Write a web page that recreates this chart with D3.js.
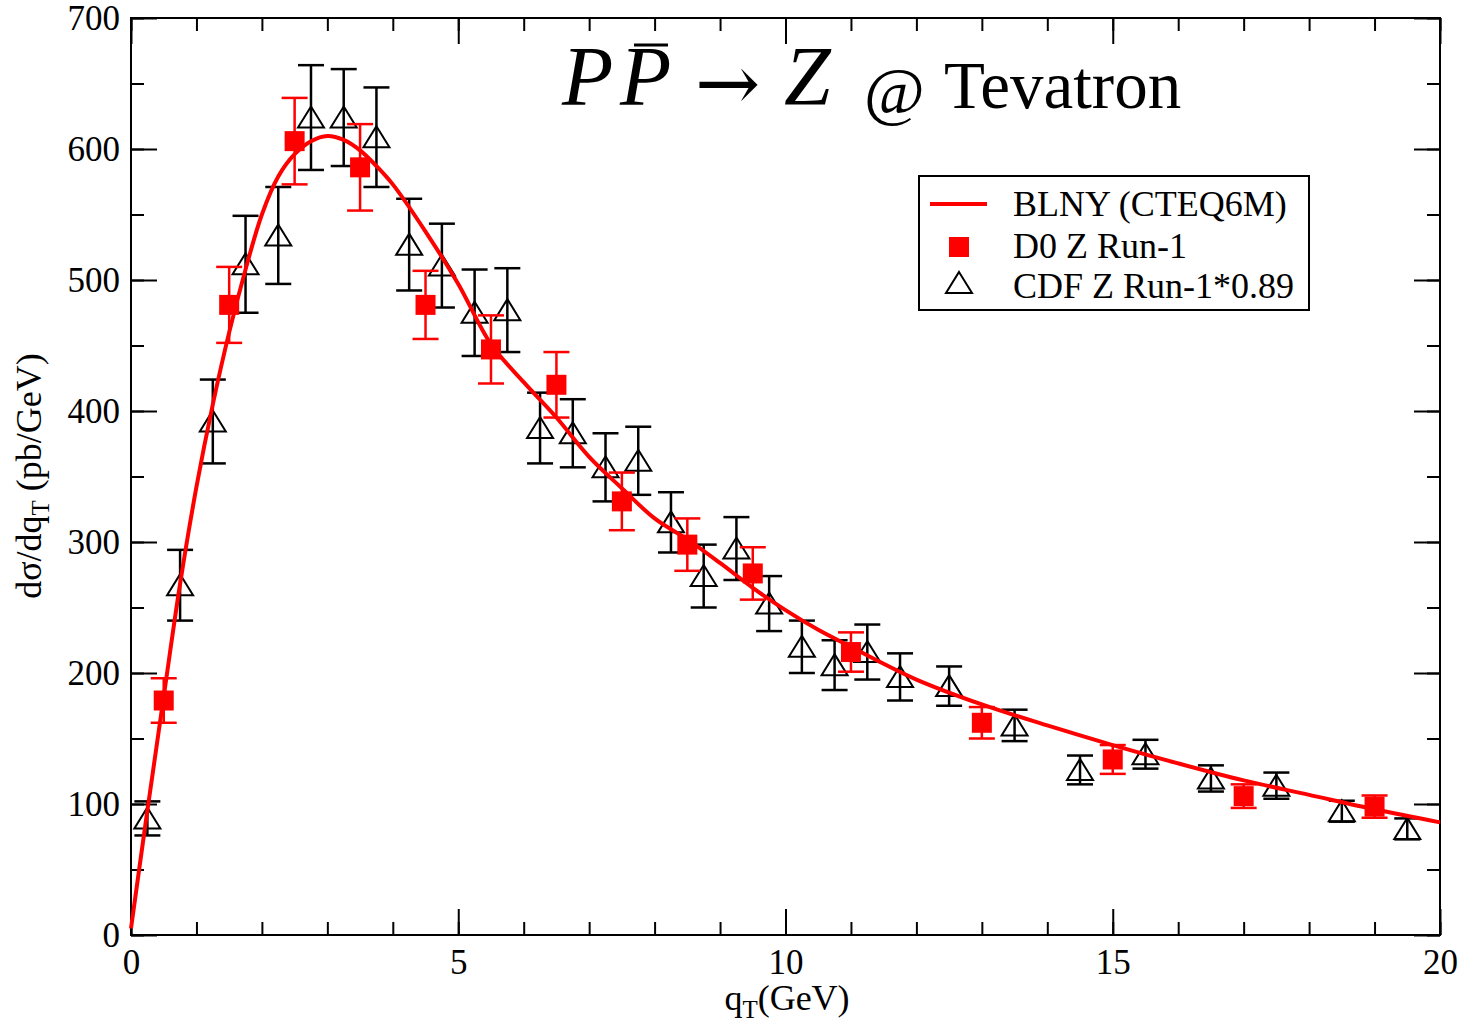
<!DOCTYPE html>
<html><head><meta charset="utf-8">
<script src="https://cdn.jsdelivr.net/npm/d3@7"></script>
<style>body{margin:0;background:#fff}</style>
</head><body>
<svg id="c" width="1466" height="1026"></svg>
<script>
// BLNY (CTEQ6M) theory curve
const curveQ = [0, 0.25, 0.5, 0.75, 1.0, 1.25, 1.5, 1.75, 2.0, 2.25, 2.5, 2.75, 3.0, 3.25, 3.5, 3.75, 4.0, 4.5, 5.0, 5.5, 6.0, 6.5, 7.0, 7.5, 8.0, 8.5, 9.0, 9.5, 10, 10.5, 11, 11.5, 12, 13, 14, 15, 16, 17, 18, 19, 20];
const curveV = [5, 95, 182, 268, 342, 405, 460, 508, 550, 579, 596, 606, 610, 607, 599, 587, 573, 537, 497, 451, 422, 395, 365, 341, 318, 302, 284, 265, 248, 233, 220, 207, 195, 176, 160, 145, 131, 118, 107, 96, 86];
// D0 Z Run-1
const d0Q = [0.5, 1.5, 2.5, 3.5, 4.5, 5.5, 6.5, 7.5, 8.5, 9.5, 11, 13, 15, 17, 19];
const d0V = [179, 481, 606, 586, 481, 447, 420, 331, 298, 276, 216, 162, 134, 106, 98];
const d0Err = [17, 29, 33, 33, 26, 26, 25, 22, 20, 20, 15, 12, 11, 9, 8.5];
// CDF Z Run-1 * 0.89
const cdfQ = [0.25, 0.75, 1.25, 1.75, 2.25, 2.75, 3.25, 3.75, 4.25, 4.75, 5.25, 5.75, 6.25, 6.75, 7.25, 7.75, 8.25, 8.75, 9.25, 9.75, 10.25, 10.75, 11.25, 11.75, 12.5, 13.5, 14.5, 15.5, 16.5, 17.5, 18.5, 19.5];
const cdfV = [89, 267, 392, 512, 534, 624, 624, 609, 527, 511, 475, 477, 387, 383, 357, 362, 315, 274, 295, 253, 220, 206, 216, 197, 190, 160, 126, 138, 119.5, 114, 94.5, 81];
const cdfErr = [13, 27, 32, 37, 37, 40, 37, 38, 35, 32, 33, 32, 27, 26, 26, 26, 23, 24, 24, 21, 20, 19, 21, 18, 15, 12, 11, 11, 10, 10, 8, 8];
// axes ticks
const xMajor = [0, 5, 10, 15, 20];
const xMinor = d3.range(0, 21, 1);
const yMajor = [0, 100, 200, 300, 400, 500, 600, 700];
const yMinor = d3.range(0, 701, 50);
const legendLabels = ["BLNY (CTEQ6M)", "D0 Z Run-1", "CDF Z Run-1*0.89"];

const svg = d3.select('#c');
const L = 131, R = 1440, T = 18, B = 935;
const x = d3.scaleLinear().domain([0, 20]).range([L, R]);
const y = d3.scaleLinear().domain([0, 700]).range([B, T]);
const FONT = "'Liberation Serif', 'Times New Roman', serif";

function styleAxis(g) {
  g.select('.domain').remove();
  g.selectAll('line').attr('stroke', '#000').attr('stroke-width', 2);
  g.selectAll('text').attr('font-family', FONT).attr('font-size', 35).attr('fill', '#000');
}
// bottom
svg.append('g').attr('transform', `translate(0,${B})`)
  .call(d3.axisBottom(x).tickValues(xMinor).tickSize(-13).tickFormat(''))
  .call(styleAxis);
svg.append('g').attr('transform', `translate(0,${B})`)
  .call(d3.axisBottom(x).tickValues(xMajor).tickSize(-26).tickPadding(14).tickFormat(d3.format('d')))
  .call(styleAxis);
// top
svg.append('g').attr('transform', `translate(0,${T})`)
  .call(d3.axisTop(x).tickValues(xMinor).tickSize(-13).tickFormat(''))
  .call(styleAxis);
svg.append('g').attr('transform', `translate(0,${T})`)
  .call(d3.axisTop(x).tickValues(xMajor).tickSize(-26).tickFormat(''))
  .call(styleAxis);
// left
svg.append('g').attr('transform', `translate(${L},0)`)
  .call(d3.axisLeft(y).tickValues(yMinor).tickSize(-13).tickFormat(''))
  .call(styleAxis);
svg.append('g').attr('transform', `translate(${L},0)`)
  .call(d3.axisLeft(y).tickValues(yMajor).tickSize(-26).tickPadding(11).tickFormat(d3.format('d')))
  .call(styleAxis);
// right
svg.append('g').attr('transform', `translate(${R},0)`)
  .call(d3.axisRight(y).tickValues(yMinor).tickSize(-13).tickFormat(''))
  .call(styleAxis);
svg.append('g').attr('transform', `translate(${R},0)`)
  .call(d3.axisRight(y).tickValues(yMajor).tickSize(-26).tickFormat(''))
  .call(styleAxis);

// frame
svg.append('rect').attr('x', L).attr('y', T).attr('width', R - L).attr('height', B - T)
  .attr('fill', 'none').attr('stroke', '#000').attr('stroke-width', 2);

const CAP = 13;
function errorBars(g, qs, vs, es, color) {
  const sel = g.selectAll('g.eb').data(qs.map((q, i) => ({q, v: vs[i], e: es[i]}))).enter().append('g');
  sel.append('line').attr('x1', d => x(d.q)).attr('x2', d => x(d.q))
    .attr('y1', d => y(d.v - d.e)).attr('y2', d => y(d.v + d.e));
  sel.append('line').attr('x1', d => x(d.q) - CAP).attr('x2', d => x(d.q) + CAP)
    .attr('y1', d => y(d.v + d.e)).attr('y2', d => y(d.v + d.e));
  sel.append('line').attr('x1', d => x(d.q) - CAP).attr('x2', d => x(d.q) + CAP)
    .attr('y1', d => y(d.v - d.e)).attr('y2', d => y(d.v - d.e));
  sel.selectAll('line').attr('stroke', color).attr('stroke-width', 2.5);
}
const tri = (cx, cy) => `M${cx},${cy - 11}L${cx + 13},${cy + 10}L${cx - 13},${cy + 10}Z`;

// CDF
const gC = svg.append('g');
errorBars(gC, cdfQ, cdfV, cdfErr, '#000');
gC.selectAll('path').data(cdfQ).enter().append('path')
  .attr('d', (q, i) => tri(x(q), y(cdfV[i])))
  .attr('fill', 'none').attr('stroke', '#000').attr('stroke-width', 2);

// D0
const gD = svg.append('g');
errorBars(gD, d0Q, d0V, d0Err, '#ff0000');
gD.selectAll('rect').data(d0Q).enter().append('rect')
  .attr('x', q => x(q) - 10).attr('y', (q, i) => y(d0V[i]) - 10)
  .attr('width', 20).attr('height', 20).attr('fill', '#ff0000');

// curve
const line = d3.line().x(d => x(d[0])).y(d => y(d[1])).curve(d3.curveCatmullRom);
svg.append('path').datum(curveQ.map((q, i) => [q, curveV[i]]))
  .attr('d', line).attr('fill', 'none').attr('stroke', '#ff0000').attr('stroke-width', 4);

// legend
const lg = svg.append('g');
lg.append('rect').attr('x', 919).attr('y', 176).attr('width', 390).attr('height', 134)
  .attr('fill', '#fff').attr('stroke', '#000').attr('stroke-width', 2);
lg.append('line').attr('x1', 930).attr('x2', 987).attr('y1', 204).attr('y2', 204)
  .attr('stroke', '#ff0000').attr('stroke-width', 4);
lg.append('rect').attr('x', 949).attr('y', 237).attr('width', 20).attr('height', 20).attr('fill', '#ff0000');
lg.append('path').attr('d', tri(959, 283)).attr('fill', 'none').attr('stroke', '#000').attr('stroke-width', 2);
[216, 258, 298].forEach((by, i) => {
  lg.append('text').attr('x', 1013).attr('y', by).text(legendLabels[i])
    .attr('font-family', FONT).attr('font-size', 36);
});

// title
const tg = svg.append('g').attr('font-family', FONT);
tg.append('text').attr('x', 562).attr('y', 105).attr('font-size', 84).attr('font-style', 'italic').text('P');
tg.append('text').attr('x', 620).attr('y', 105).attr('font-size', 84).attr('font-style', 'italic').text('P');
tg.append('line').attr('x1', 634).attr('x2', 668).attr('y1', 45).attr('y2', 45).attr('stroke', '#000').attr('stroke-width', 3);
tg.append('text').attr('x', 695).attr('y', 110).attr('font-size', 78)
  .attr('font-family', "'DejaVu Serif', serif").text('\u2192');
tg.append('text').attr('x', 784).attr('y', 105).attr('font-size', 84).attr('font-style', 'italic').text('Z');
tg.append('text').attr('x', 864).attr('y', 113).attr('font-size', 66).text('@');
tg.append('text').attr('x', 944).attr('y', 108).attr('font-size', 67).text('Tevatron');

// axis titles
const xt = svg.append('text').attr('x', 787).attr('y', 1010).attr('text-anchor', 'middle')
  .attr('font-family', FONT).attr('font-size', 36);
xt.append('tspan').text('q');
xt.append('tspan').attr('font-size', 25).attr('dy', 8).text('T');
xt.append('tspan').attr('dy', -8).text('(GeV)');

const yt = svg.append('text').attr('transform', 'translate(41,476) rotate(-90)').attr('text-anchor', 'middle')
  .attr('font-family', FONT).attr('font-size', 36);
yt.append('tspan').text('d\u03C3/dq');
yt.append('tspan').attr('font-size', 25).attr('dy', 8).text('T');
yt.append('tspan').attr('dy', -8).text(' (pb/GeV)');
</script>
</body></html>
